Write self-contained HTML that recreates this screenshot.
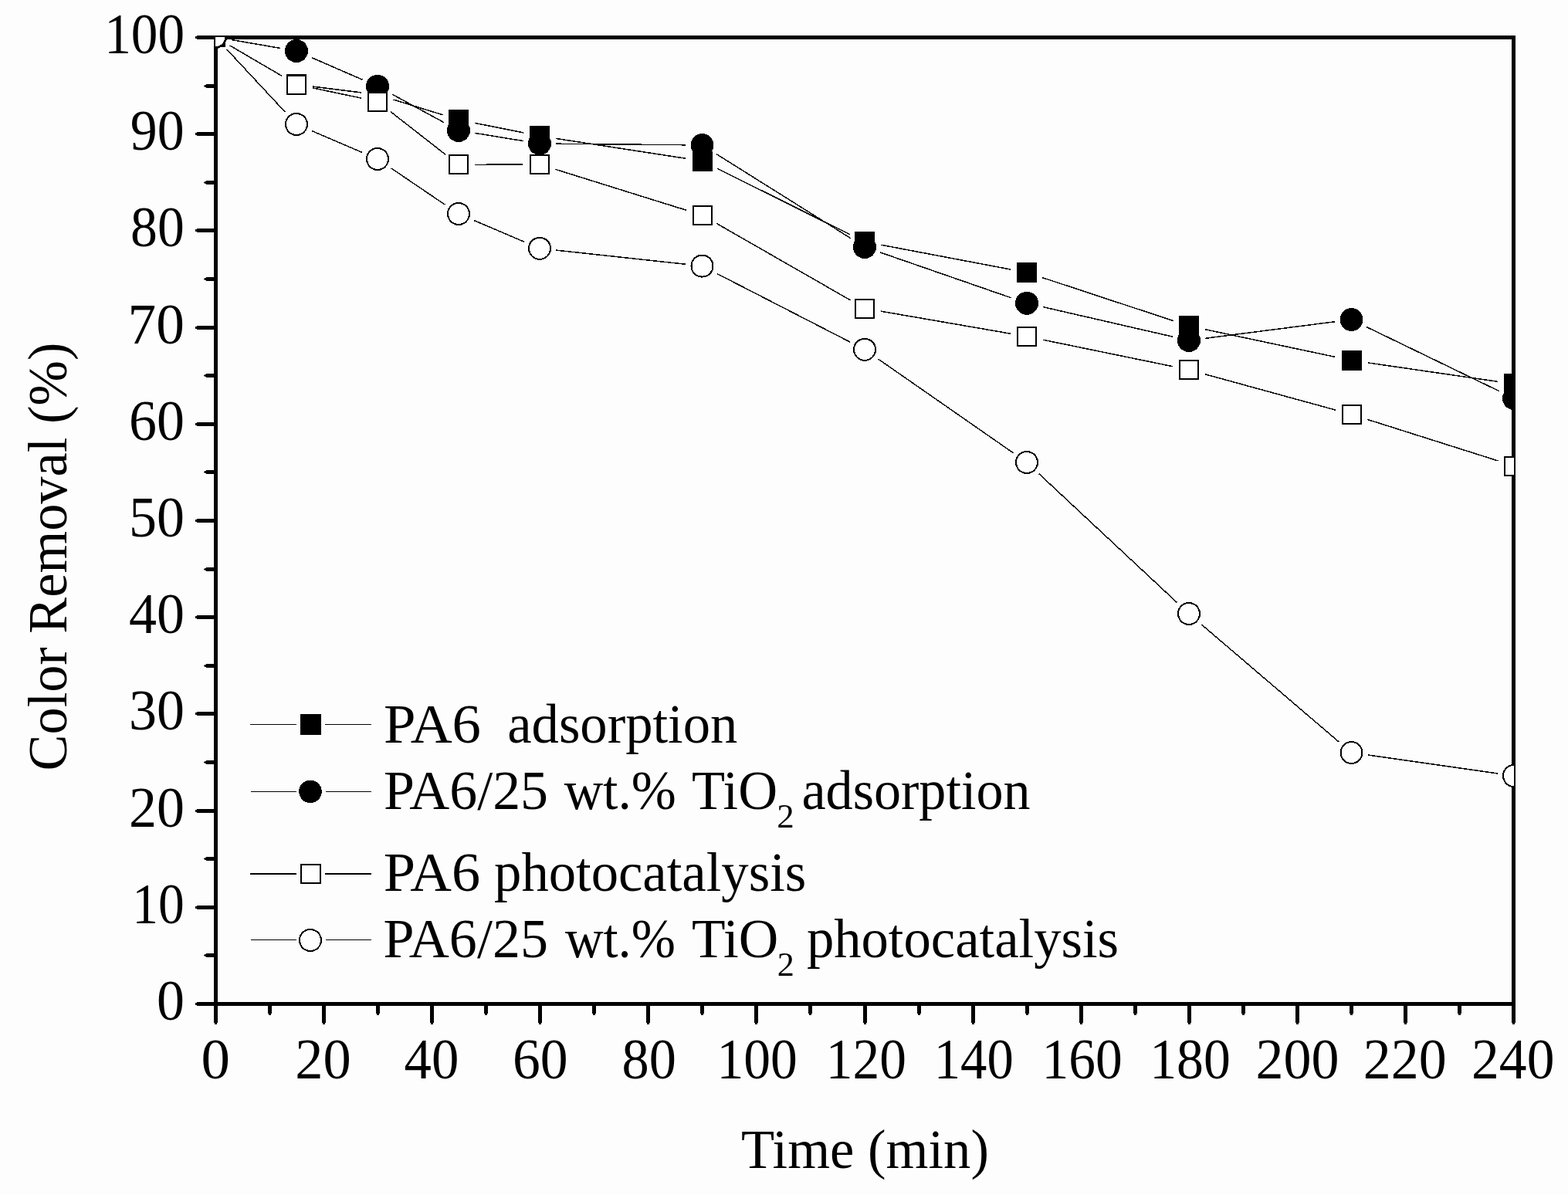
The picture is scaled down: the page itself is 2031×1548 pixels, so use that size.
<!DOCTYPE html>
<html lang="en"><head><meta charset="utf-8"><title>Color Removal (%) vs Time (min)</title>
<style>
html,body{margin:0;padding:0;background:#fdfdfd;overflow:hidden;}
svg{display:block;}
text{font-family:"Liberation Serif","Times New Roman",serif;fill:#000;}
</style></head><body>
<svg width="2031" height="1548" viewBox="0 0 2031 1548">
<rect x="0" y="0" width="2031" height="1548" fill="#fdfdfd"/>
<defs><clipPath id="pc"><rect x="279" y="48" width="1682" height="1252"/></clipPath></defs>
<g fill="#000" shape-rendering="crispEdges">
<rect x="277" y="46" width="5" height="1257"/>
<rect x="277" y="46" width="1686" height="5"/>
<rect x="1958" y="46" width="5" height="1257"/>
<rect x="277" y="1298" width="1686" height="5"/>
<rect x="255" y="1298" width="22" height="5"/><rect x="253" y="1299" width="2" height="3"/>
<rect x="267" y="1235" width="10" height="5"/><rect x="265" y="1236" width="2" height="3"/><rect x="264" y="1237" width="1" height="1"/>
<rect x="255" y="1173" width="22" height="5"/><rect x="253" y="1174" width="2" height="3"/>
<rect x="267" y="1110" width="10" height="5"/><rect x="265" y="1111" width="2" height="3"/><rect x="264" y="1112" width="1" height="1"/>
<rect x="255" y="1048" width="22" height="5"/><rect x="253" y="1049" width="2" height="3"/>
<rect x="267" y="985" width="10" height="5"/><rect x="265" y="986" width="2" height="3"/><rect x="264" y="987" width="1" height="1"/>
<rect x="255" y="922" width="22" height="5"/><rect x="253" y="923" width="2" height="3"/>
<rect x="267" y="860" width="10" height="5"/><rect x="265" y="861" width="2" height="3"/><rect x="264" y="862" width="1" height="1"/>
<rect x="255" y="797" width="22" height="5"/><rect x="253" y="798" width="2" height="3"/>
<rect x="267" y="735" width="10" height="5"/><rect x="265" y="736" width="2" height="3"/><rect x="264" y="737" width="1" height="1"/>
<rect x="255" y="672" width="22" height="5"/><rect x="253" y="673" width="2" height="3"/>
<rect x="267" y="609" width="10" height="5"/><rect x="265" y="610" width="2" height="3"/><rect x="264" y="611" width="1" height="1"/>
<rect x="255" y="547" width="22" height="5"/><rect x="253" y="548" width="2" height="3"/>
<rect x="267" y="484" width="10" height="5"/><rect x="265" y="485" width="2" height="3"/><rect x="264" y="486" width="1" height="1"/>
<rect x="255" y="422" width="22" height="5"/><rect x="253" y="423" width="2" height="3"/>
<rect x="267" y="359" width="10" height="5"/><rect x="265" y="360" width="2" height="3"/><rect x="264" y="361" width="1" height="1"/>
<rect x="255" y="296" width="22" height="5"/><rect x="253" y="297" width="2" height="3"/>
<rect x="267" y="234" width="10" height="5"/><rect x="265" y="235" width="2" height="3"/><rect x="264" y="236" width="1" height="1"/>
<rect x="255" y="171" width="22" height="5"/><rect x="253" y="172" width="2" height="3"/>
<rect x="267" y="109" width="10" height="5"/><rect x="265" y="110" width="2" height="3"/><rect x="264" y="111" width="1" height="1"/>
<rect x="255" y="46" width="22" height="5"/><rect x="253" y="47" width="2" height="3"/>
<rect x="277" y="1303" width="5" height="22"/><rect x="278" y="1325" width="3" height="2"/>
<rect x="347" y="1303" width="5" height="10"/><rect x="348" y="1313" width="3" height="2"/>
<rect x="417" y="1303" width="5" height="22"/><rect x="418" y="1325" width="3" height="2"/>
<rect x="487" y="1303" width="5" height="10"/><rect x="488" y="1313" width="3" height="2"/>
<rect x="557" y="1303" width="5" height="22"/><rect x="558" y="1325" width="3" height="2"/>
<rect x="627" y="1303" width="5" height="10"/><rect x="628" y="1313" width="3" height="2"/>
<rect x="697" y="1303" width="5" height="22"/><rect x="698" y="1325" width="3" height="2"/>
<rect x="767" y="1303" width="5" height="10"/><rect x="768" y="1313" width="3" height="2"/>
<rect x="837" y="1303" width="5" height="22"/><rect x="838" y="1325" width="3" height="2"/>
<rect x="907" y="1303" width="5" height="10"/><rect x="908" y="1313" width="3" height="2"/>
<rect x="977" y="1303" width="5" height="22"/><rect x="978" y="1325" width="3" height="2"/>
<rect x="1047" y="1303" width="5" height="10"/><rect x="1048" y="1313" width="3" height="2"/>
<rect x="1118" y="1303" width="5" height="22"/><rect x="1119" y="1325" width="3" height="2"/>
<rect x="1188" y="1303" width="5" height="10"/><rect x="1189" y="1313" width="3" height="2"/>
<rect x="1258" y="1303" width="5" height="22"/><rect x="1259" y="1325" width="3" height="2"/>
<rect x="1328" y="1303" width="5" height="10"/><rect x="1329" y="1313" width="3" height="2"/>
<rect x="1398" y="1303" width="5" height="22"/><rect x="1399" y="1325" width="3" height="2"/>
<rect x="1468" y="1303" width="5" height="10"/><rect x="1469" y="1313" width="3" height="2"/>
<rect x="1538" y="1303" width="5" height="22"/><rect x="1539" y="1325" width="3" height="2"/>
<rect x="1608" y="1303" width="5" height="10"/><rect x="1609" y="1313" width="3" height="2"/>
<rect x="1678" y="1303" width="5" height="22"/><rect x="1679" y="1325" width="3" height="2"/>
<rect x="1748" y="1303" width="5" height="10"/><rect x="1749" y="1313" width="3" height="2"/>
<rect x="1818" y="1303" width="5" height="22"/><rect x="1819" y="1325" width="3" height="2"/>
<rect x="1888" y="1303" width="5" height="10"/><rect x="1889" y="1313" width="3" height="2"/>
<rect x="1958" y="1303" width="5" height="22"/><rect x="1959" y="1325" width="3" height="2"/>
</g>
<g stroke="#000" stroke-width="1.5" fill="none" shape-rendering="crispEdges">
<path d="M297.6 58.9L365.4 98.5 M405.3 112.1L467.7 119.9 M509.5 129.0L573.5 148.8 M615.1 159.4L677.9 171.9 M720.2 179.4L888.3 205.3 M928.8 218.1L1100.7 303.7 M1141.1 317.2L1308.9 349.0 M1350.4 359.7L1519.6 415.5 M1561.0 426.7L1729.5 462.4 M1771.8 469.9L1939.7 494.3"/>
<path d="M300.2 51.6L362.8 62.4 M403.7 74.6L469.3 103.2 M507.9 122.1L575.1 158.7 M615.2 172.4L677.8 182.6 M720.5 186.2L888.0 187.8 M927.7 199.4L1101.8 308.6 M1140.3 327.0L1309.7 385.8 M1351.0 397.6L1519.0 436.2 M1561.3 438.3L1729.2 416.7 M1769.8 423.4L1941.7 506.6"/>
<path d="M297.6 58.9L365.4 98.6 M405.0 113.9L468.0 127.1 M506.0 144.7L577.0 200.2 M615.5 213.3L677.5 213.1 M719.5 219.4L889.0 272.3 M928.1 289.4L1101.4 388.8 M1141.2 403.2L1308.8 432.2 M1351.1 440.2L1518.9 474.7 M1560.7 484.7L1729.8 531.1 M1771.0 543.3L1940.5 597.0"/>
<path d="M293.6 63.8L369.4 145.2 M403.8 169.5L469.2 197.5 M506.8 218.0L576.2 265.0 M613.8 285.4L679.2 313.4 M720.4 324.1L888.1 342.3 M928.6 354.4L1100.9 443.0 M1137.6 465.1L1312.4 586.7 M1345.7 613.7L1524.3 780.3 M1556.3 809.0L1734.2 961.0 M1771.8 978.0L1939.7 1002.0"/>
</g>
<g clip-path="url(#pc)" shape-rendering="crispEdges">
<rect x="266" y="35" width="26" height="26" fill="#000"/>
<rect x="371" y="96" width="26" height="26" fill="#000"/>
<rect x="476" y="110" width="26" height="26" fill="#000"/>
<rect x="581" y="142" width="26" height="26" fill="#000"/>
<rect x="686" y="163" width="26" height="26" fill="#000"/>
<rect x="897" y="196" width="26" height="26" fill="#000"/>
<rect x="1107" y="300" width="26" height="26" fill="#000"/>
<rect x="1317" y="340" width="26" height="26" fill="#000"/>
<rect x="1527" y="409" width="26" height="26" fill="#000"/>
<rect x="1738" y="454" width="26" height="26" fill="#000"/>
<rect x="1948" y="484" width="26" height="26" fill="#000"/>
<circle cx="279.0" cy="48.0" r="15" fill="#000"/>
<circle cx="384.0" cy="66.0" r="15" fill="#000"/>
<circle cx="489.0" cy="111.8" r="15" fill="#000"/>
<circle cx="594.0" cy="169.0" r="15" fill="#000"/>
<circle cx="699.0" cy="186.0" r="15" fill="#000"/>
<circle cx="909.5" cy="188.0" r="15" fill="#000"/>
<circle cx="1120.0" cy="320.0" r="15" fill="#000"/>
<circle cx="1330.0" cy="392.8" r="15" fill="#000"/>
<circle cx="1540.0" cy="441.0" r="15" fill="#000"/>
<circle cx="1750.5" cy="414.0" r="15" fill="#000"/>
<circle cx="1961.0" cy="516.0" r="15" fill="#000"/>
<rect x="372" y="98" width="24" height="24" fill="#fff" stroke="#000" stroke-width="2"/>
<rect x="477" y="120" width="24" height="24" fill="#fff" stroke="#000" stroke-width="2"/>
<rect x="582" y="201" width="24" height="24" fill="#fff" stroke="#000" stroke-width="2"/>
<rect x="687" y="201" width="24" height="24" fill="#fff" stroke="#000" stroke-width="2"/>
<rect x="898" y="267" width="24" height="24" fill="#fff" stroke="#000" stroke-width="2"/>
<rect x="1108" y="388" width="24" height="24" fill="#fff" stroke="#000" stroke-width="2"/>
<rect x="1318" y="424" width="24" height="24" fill="#fff" stroke="#000" stroke-width="2"/>
<rect x="1528" y="467" width="24" height="24" fill="#fff" stroke="#000" stroke-width="2"/>
<rect x="1739" y="525" width="24" height="24" fill="#fff" stroke="#000" stroke-width="2"/>
<rect x="1949" y="592" width="24" height="24" fill="#fff" stroke="#000" stroke-width="2"/>
<circle cx="279.0" cy="48.0" r="13.3" fill="#fff" stroke="#000" stroke-width="2"/>
<circle cx="384.0" cy="161.0" r="14" fill="#fff" stroke="#000" stroke-width="2"/>
<circle cx="489.0" cy="206.0" r="14" fill="#fff" stroke="#000" stroke-width="2"/>
<circle cx="594.0" cy="277.0" r="14" fill="#fff" stroke="#000" stroke-width="2"/>
<circle cx="699.0" cy="321.8" r="14" fill="#fff" stroke="#000" stroke-width="2"/>
<circle cx="909.5" cy="344.6" r="14" fill="#fff" stroke="#000" stroke-width="2"/>
<circle cx="1120.0" cy="452.8" r="14" fill="#fff" stroke="#000" stroke-width="2"/>
<circle cx="1330.0" cy="599.0" r="14" fill="#fff" stroke="#000" stroke-width="2"/>
<circle cx="1540.0" cy="795.0" r="14" fill="#fff" stroke="#000" stroke-width="2"/>
<circle cx="1750.5" cy="975.0" r="14" fill="#fff" stroke="#000" stroke-width="2"/>
<circle cx="1961.0" cy="1005.0" r="14" fill="#fff" stroke="#000" stroke-width="2"/>
</g>
<text x="202.90" y="1321.0" font-size="72" textLength="36.00" lengthAdjust="spacingAndGlyphs" transform="matrix(1,0,0,1.035,0,-46.235)">0</text>
<text x="171.17" y="1195.8" font-size="72" textLength="67.54" lengthAdjust="spacingAndGlyphs" transform="matrix(1,0,0,1.035,0,-41.853)">10</text>
<text x="167.00" y="1070.6" font-size="72" textLength="72.00" lengthAdjust="spacingAndGlyphs" transform="matrix(1,0,0,1.035,0,-37.471)">20</text>
<text x="167.00" y="945.4" font-size="72" textLength="72.00" lengthAdjust="spacingAndGlyphs" transform="matrix(1,0,0,1.035,0,-33.089)">30</text>
<text x="167.00" y="820.2" font-size="72" textLength="72.00" lengthAdjust="spacingAndGlyphs" transform="matrix(1,0,0,1.035,0,-28.707)">40</text>
<text x="167.00" y="695.0" font-size="72" textLength="72.00" lengthAdjust="spacingAndGlyphs" transform="matrix(1,0,0,1.035,0,-24.325)">50</text>
<text x="167.00" y="569.8" font-size="72" textLength="72.00" lengthAdjust="spacingAndGlyphs" transform="matrix(1,0,0,1.035,0,-19.943)">60</text>
<text x="165.61" y="444.6" font-size="72" textLength="73.35" lengthAdjust="spacingAndGlyphs" transform="matrix(1,0,0,1.035,0,-15.561)">70</text>
<text x="169.10" y="319.4" font-size="72" textLength="69.71" lengthAdjust="spacingAndGlyphs" transform="matrix(1,0,0,1.035,0,-11.179)">80</text>
<text x="168.86" y="194.2" font-size="72" textLength="69.85" lengthAdjust="spacingAndGlyphs" transform="matrix(1,0,0,1.035,0,-6.797)">90</text>
<text x="135.23" y="69.0" font-size="72" textLength="103.85" lengthAdjust="spacingAndGlyphs" transform="matrix(1,0,0,1.035,0,-2.415)">100</text>
<text x="260.48" y="1397" font-size="72" textLength="37.44" lengthAdjust="spacingAndGlyphs" transform="matrix(1,0,0,1.025,0,-34.925)">0</text>
<text x="382.28" y="1397" font-size="72" textLength="72.44" lengthAdjust="spacingAndGlyphs" transform="matrix(1,0,0,1.025,0,-34.925)">20</text>
<text x="523.62" y="1397" font-size="72" textLength="70.84" lengthAdjust="spacingAndGlyphs" transform="matrix(1,0,0,1.025,0,-34.925)">40</text>
<text x="663.91" y="1397" font-size="72" textLength="71.67" lengthAdjust="spacingAndGlyphs" transform="matrix(1,0,0,1.025,0,-34.925)">60</text>
<text x="805.57" y="1397" font-size="72" textLength="70.36" lengthAdjust="spacingAndGlyphs" transform="matrix(1,0,0,1.025,0,-34.925)">80</text>
<text x="928.40" y="1397" font-size="72" textLength="104.40" lengthAdjust="spacingAndGlyphs" transform="matrix(1,0,0,1.025,0,-34.925)">100</text>
<text x="1069.81" y="1397" font-size="72" textLength="104.18" lengthAdjust="spacingAndGlyphs" transform="matrix(1,0,0,1.025,0,-34.925)">120</text>
<text x="1209.67" y="1397" font-size="72" textLength="103.09" lengthAdjust="spacingAndGlyphs" transform="matrix(1,0,0,1.025,0,-34.925)">140</text>
<text x="1349.41" y="1397" font-size="72" textLength="104.29" lengthAdjust="spacingAndGlyphs" transform="matrix(1,0,0,1.025,0,-34.925)">160</text>
<text x="1489.19" y="1397" font-size="72" textLength="104.62" lengthAdjust="spacingAndGlyphs" transform="matrix(1,0,0,1.025,0,-34.925)">180</text>
<text x="1626.50" y="1397" font-size="72" textLength="108.00" lengthAdjust="spacingAndGlyphs" transform="matrix(1,0,0,1.025,0,-34.925)">200</text>
<text x="1765.70" y="1397" font-size="72" textLength="108.00" lengthAdjust="spacingAndGlyphs" transform="matrix(1,0,0,1.025,0,-34.925)">220</text>
<text x="1906.01" y="1397" font-size="72" textLength="107.47" lengthAdjust="spacingAndGlyphs" transform="matrix(1,0,0,1.025,0,-34.925)">240</text>
<text x="959.92" y="1512.8" font-size="72" textLength="320.99" lengthAdjust="spacingAndGlyphs">Time (min)</text>
<text transform="translate(86,998.43) rotate(-90)" x="0" y="0" font-size="72" textLength="554.75" lengthAdjust="spacingAndGlyphs">Color Removal (%)</text>
<g fill="#000" shape-rendering="crispEdges">
<rect x="324" y="938" width="60" height="1"/><rect x="421" y="938" width="60" height="1"/>
<rect x="325" y="1025" width="59" height="1"/><rect x="422" y="1025" width="59" height="1"/>
<rect x="324" y="1131" width="60" height="2"/><rect x="421" y="1131" width="60" height="2"/>
<rect x="325" y="1217" width="59" height="1"/><rect x="422" y="1217" width="59" height="1"/>
<rect x="389" y="925" width="27" height="27"/>
<circle cx="402" cy="1025.4" r="14.8"/>
<rect x="390" y="1120" width="25" height="24" fill="#fff" stroke="#000" stroke-width="2"/>
<circle cx="402" cy="1218" r="14" fill="#fff" stroke="#000" stroke-width="2"/>
</g>
<text x="496.92" y="962" font-size="72" textLength="126.11" lengthAdjust="spacingAndGlyphs">PA6</text>
<text x="657.26" y="962" font-size="72" textLength="298.09" lengthAdjust="spacingAndGlyphs">adsorption</text>
<text x="497.00" y="1047.5" font-size="72" textLength="213.03" lengthAdjust="spacingAndGlyphs">PA6/25</text>
<text x="730.70" y="1047.5" font-size="72" textLength="145.22" lengthAdjust="spacingAndGlyphs">wt.%</text>
<text x="896.02" y="1047.5" font-size="72" textLength="110.98" lengthAdjust="spacingAndGlyphs">TiO</text>
<text x="1006.36" y="1071.5" font-size="44" textLength="22.49" lengthAdjust="spacingAndGlyphs">2</text>
<text x="1038.48" y="1047.5" font-size="72" textLength="296.07" lengthAdjust="spacingAndGlyphs">adsorption</text>
<text x="496.74" y="1154" font-size="72" textLength="125.38" lengthAdjust="spacingAndGlyphs">PA6</text>
<text x="640.12" y="1154" font-size="72" textLength="404.16" lengthAdjust="spacingAndGlyphs">photocatalysis</text>
<text x="496.40" y="1240" font-size="72" textLength="213.54" lengthAdjust="spacingAndGlyphs">PA6/25</text>
<text x="731.90" y="1240" font-size="72" textLength="143.09" lengthAdjust="spacingAndGlyphs">wt.%</text>
<text x="896.01" y="1240" font-size="72" textLength="112.32" lengthAdjust="spacingAndGlyphs">TiO</text>
<text x="1006.69" y="1263.5" font-size="44" textLength="22.12" lengthAdjust="spacingAndGlyphs">2</text>
<text x="1044.92" y="1240" font-size="72" textLength="404.16" lengthAdjust="spacingAndGlyphs">photocatalysis</text>
</svg></body></html>
